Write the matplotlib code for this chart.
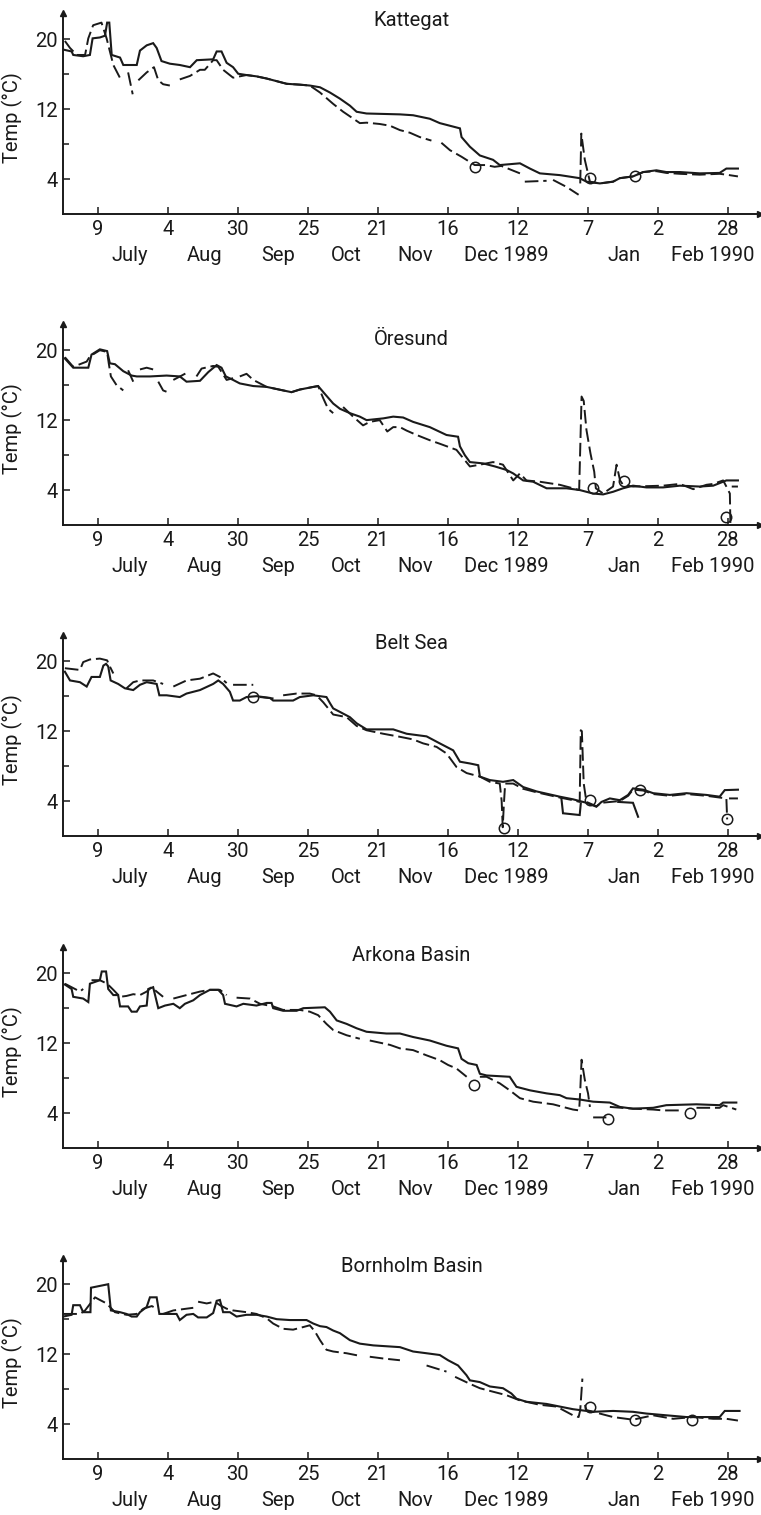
import numpy as np
import matplotlib
matplotlib.use("Agg")
import matplotlib.pyplot as plt
import matplotlib.transforms as mtransforms

plt.rcParams['font.family'] = ['Roboto', 'DejaVu Sans']

# ---------------- data (day = days since 1 July 1989, temperature in deg C) -------------
tick_days = [8, 34, 60, 86, 112, 138, 164, 190, 216, 242]
tick_labels = ['9', '4', '30', '25', '21', '16', '12', '7', '2', '28']
month_labels = ['July', 'Aug', 'Sep', 'Oct', 'Nov', 'Dec 1989', 'Jan', 'Feb 1990']
month_label_days = [19.9, 47.7, 74.9, 100.1, 125.8, 159.9, 203.4, 236.4]
y_major = [4, 12, 20]
y_minor = [8, 16]
stations = ['Kattegat', 'Öresund', 'Belt Sea', 'Arkona Basin', 'Bornholm Basin']

kattegat_solid = [(-4.7,18.8),(-1.8,18.6),(-1.2,18.2),(2.5,18.05),(5,18.2),(6,20.1),(8.7,20.2),(10.6,20.4),
    (11.4,21.9),(12.2,21.9),(13.1,18.2),(16.2,17.9),(17.4,17.05),(22.4,17.05),(23.6,18.7),(26.1,19.3),
    (28.5,19.55),(29.8,19.0),(31.6,17.5),(34.7,17.2),(38.4,17.05),(42.2,16.8),(44.7,17.6),(50.8,17.7),
    (52.1,18.6),(53.9,18.6),(55.8,17.3),(58.2,16.8),(60.1,16.05),(63.2,15.9),(66.9,15.75),(70.7,15.5),
    (74.4,15.2),(78.1,14.9),(83,14.8),(86.7,14.7),(90.5,14.5),(94.2,13.9),(97.9,13.2),(101.6,12.4),
    (104.1,11.7),(107.8,11.5),(120.2,11.4),(125.1,11.3),(131.3,10.9),(135,10.4),(142.5,9.8),(143.1,8.8),
    (146.2,7.7),(149.9,6.7),(154.8,6.2),(157.3,5.6),(164.8,5.8),(168.5,5.2),(172.2,4.65),(179.6,4.45),
    (187,4.1),(189.5,3.7),(194.5,3.5),(199.4,3.7),(201.9,4.1),(206.8,4.3),(210.6,4.8),(215.5,5.0),
    (219.2,4.8),(224.2,4.8),(231.6,4.65),(239,4.7),(241.5,5.2),(245.8,5.2)]
kattegat_dashed = [(-4.3,19.8),(-2.4,19.0),(0.1,18.2),(3.2,18.2),(4.4,20.1),(6.2,21.6),(9.3,21.9),(11.2,20.1),
    (13.7,17.05),(16.8,15.2),None,(19.2,16.2),(20.9,13.7),None,(23,15.3),(26.1,16.2),(28.8,16.8),(30.4,15.3),
    (32.2,14.85),(34.7,14.7),None,(38.4,15.4),(42.2,15.8),(45.9,16.5),(47.7,16.5),(50.8,17.6),(52.1,17.6),
    (54.5,16.5),(58.2,15.6),(63.2,15.9),(66.9,15.75),(70.7,15.5),(74.4,15.2),(78.1,14.9),(83,14.8),(86.7,14.7),
    (90.5,13.9),(95.4,12.6),(99.1,11.7),(105.3,10.4),(107.8,10.45),(112.7,10.3),(116.5,10.1),(120.2,9.6),
    (123.9,9.3),(127.6,8.8),(131.9,8.4),None,(135.6,8.15),(138.8,7.3),(143.1,6.55),(148,5.6),(152,5.6),
    (155.4,5.4),(157.9,5.5),(164.8,4.65),None,(166.6,3.7),(174.7,3.8),None,(177.1,3.9),(182.1,3.1),(186.6,2.2),
    None,(187.2,3.5),(187.6,9.2),(188.9,6.2),(190.8,3.7),(194.5,3.5),(199.4,3.7),(201.9,4.1),(206.8,4.3),
    (210.6,4.8),(215.5,4.9),(219.2,4.7),(224.2,4.6),(231.6,4.5),(239,4.6),(241.5,4.5),(245.8,4.3)]
kattegat_circles = [(148,5.4),(190.8,4.1),(207.5,4.3)]

oresund_solid = [(-4.3,19.05),(-1.2,18.0),(4.4,18.0),(5.6,19.5),(8.7,20.1),(11.4,19.9),(12.4,18.5),(14.3,18.4),
    (17.4,17.6),(20.5,17.1),(22.4,17.0),(27.3,17.0),(33.5,17.1),(38.4,17.0),(40.9,16.4),(45.9,16.5),(49,17.5),
    (52.1,18.3),(53.9,18.0),(55.5,17.0),(58.2,16.6),(60.7,16.2),(65.7,15.9),(70.7,15.8),(76.8,15.4),(79.9,15.2),
    (83,15.5),(88,15.8),(89.8,15.9),(92.3,15.0),(95.4,13.9),(97.9,13.3),(101.6,12.8),(105.3,12.4),(107.8,12.0),
    (114,12.2),(117.7,12.4),(121.4,12.3),(125.1,11.8),(131.3,11.2),(137.5,10.3),(141.8,10.1),(142.5,9.0),
    (144.3,8.0),(146.2,7.2),(151.1,7.05),(155.5,6.7),(159.8,6.3),(162.3,5.9),(166,5.1),(169.7,4.95),(174.7,4.2),
    (182.1,4.2),(187,4.0),(192,3.6),(195.7,3.5),(199.4,3.8),(203.1,4.2),(206.8,4.5),(211.8,4.3),(218,4.3),
    (224.2,4.5),(231.6,4.4),(236.6,4.5),(240.3,4.95),(241.5,5.1),(245.8,5.1)]
oresund_dashed = [(-4.3,19.2),(-1.2,18.1),(3.8,18.7),(5,19.3),(8.7,20.0),(11.4,19.8),(12.0,18.5),(12.8,17.0),
    (14.9,16.0),(17.4,15.4),None,(19.2,17.7),(21.1,16.4),None,(23.6,17.8),(26.1,18.0),(28.5,17.8),None,
    (30.4,16.4),(32.2,15.4),(34.7,15.1),None,(36,16.6),(39.1,17.1),(41.5,17.5),None,(44.6,17.0),(46.5,17.9),
    (50.8,18.2),(52.7,18.1),(55.8,16.6),(58.2,16.8),None,(60.7,17.0),(63.2,17.3),(65.7,16.6),(70.7,15.8),
    (76.8,15.4),(79.9,15.2),(83,15.5),(88,15.8),(89.8,15.9),(91.7,14.5),(93.5,13.3),(95.4,12.8),None,
    (99.1,13.5),(102.8,12.4),(106.5,11.4),(109,11.8),(112.7,12.0),(115.5,10.7),(117.7,11.2),(120.2,11.2),
    (122.7,10.8),(126.4,10.3),(131.3,9.7),(135,9.3),(141.2,8.6),(146.2,6.7),(149.9,6.9),(154.8,7.2),
    (158.5,6.9),(162.3,5.1),(164.8,5.9),(167.2,5.1),(172.2,4.95),(179.6,4.6),(184.5,4.2),(186.8,4.0),
    (187.7,14.7),(188.5,14.2),(189.5,10.9),(191,8.2),(192.4,6.1),(193,4.2),(195.7,3.6),(199.4,4.4),
    (200.7,6.9),(202,5.1),(203.1,4.6),(206.8,4.4),(218,4.5),(224.2,4.7),(229.2,4.1),(234.1,4.6),(236.6,4.7),
    (240.3,5.1),(241.5,4.4),(242.8,3.6),(243,0.2),None,(243.5,4.4),(245.8,4.4)]
oresund_circles = [(192,4.2),(203.4,5.0),(241.5,0.9)]

belt_solid = [(-4.3,18.8),(-2.4,17.8),(1.3,17.6),(3.8,17.1),(5.6,18.2),(8.7,18.2),(10,19.5),(11,19.7),
    (11.8,19.4),(12.7,17.8),(15.5,17.4),(18,16.9),(21.1,16.7),(23.6,17.3),(26.1,17.6),(29.8,17.4),(30.8,16.1),
    (33.5,16.1),(38.4,15.9),(40.9,16.3),(45.9,16.7),(50.8,17.4),(52.7,17.8),(54.5,17.4),(57,16.5),(58.2,15.5),
    (60.7,15.5),(63.2,15.9),(66.9,16.0),(71.9,15.8),(73.1,15.5),(80.5,15.5),(83,15.9),(88,16.1),(92.9,15.9),
    (94.2,15.2),(95.4,14.6),(97.9,14.2),(101.6,13.6),(104.1,12.9),(107.8,12.2),(117.7,12.2),(122.7,11.7),
    (130.1,11.4),(135,10.6),(140,9.8),(142.5,8.5),(146.2,8.3),(149.3,8.1),(149.9,6.8),(153.6,6.4),(158.5,6.2),
    (162.3,6.4),(166,5.6),(171,5.1),(179.6,4.5),(184.5,4.2),(189.5,3.8),(193.2,3.35),(195.1,3.9),(198.2,4.3),
    (201.9,4.1),(205,4.7),(206.8,5.45),(210.6,5.3),(214.3,4.9),(220.5,4.7),(226.7,4.9),(234.1,4.7),(239,4.5),
    (240.9,5.25),(245.8,5.3),None,(180.2,4.3),(180.8,2.6),(187,2.4),(187.4,3.7),None,(201.3,3.9),(206.8,3.8),
    (208.7,2.2)]
belt_dashed = [(-4.3,19.2),(1.3,19.0),(2.5,19.9),(5,20.2),(8.7,20.3),(11.4,20.1),(12.4,19.4),(13.7,18.6),None,
    (18.6,16.9),(21.1,17.6),(23.6,17.8),(28.5,17.8),(32.2,17.4),None,(36,17.1),(40.9,17.8),(45.9,18.0),
    (50.8,18.6),(53.3,18.2),(55.8,17.5),None,(58.2,17.3),(65.7,17.3),None,(68.2,15.9),(74.4,15.7),None,
    (76.8,16.1),(81.8,16.3),(86.7,16.3),(89.2,16.1),(91.7,15.3),(95.4,13.9),(100.4,13.6),(104.1,12.6),
    (107.8,12.1),(114,11.7),(120.2,11.35),(125.1,11.05),(128.8,10.6),(133.8,10.2),(137.5,9.45),(141.2,7.9),
    (145,7.2),(149.9,6.8),(153.6,6.2),(157.3,6.0),(158.0,4.0),(158.4,1.0),(158.8,3.5),(159.3,6.0),(162.3,6.0),
    (166,5.4),(171,5.0),(179.6,4.4),(184.5,4.1),(187,3.9),(187.4,12.1),(187.8,12.0),(188.5,6.0),(189.5,3.9),
    (193.2,3.4),(195.1,3.8),(201.9,4.0),(205,4.6),(206.8,5.3),(210.6,5.2),(214.3,4.8),(220.5,4.6),(226.7,4.8),
    (234.1,4.6),(239,4.4),(241.5,4.3),(241.8,1.9),None,(242.5,4.3),(245.8,4.3)]
belt_circles = [(65.7,15.85),(158.8,0.9),(190.8,4.1),(209.5,5.25),(241.8,1.9)]

arkona_solid = [(-4.3,18.7),(-1.8,18.2),(-1.2,17.3),(2.5,17.1),(4.4,16.7),(5,18.8),(8.7,19.2),(9.4,20.2),
    (11,20.2),(11.8,18.2),(13.7,17.5),(15.5,17.5),(16.2,16.2),(19.2,16.2),(20.5,15.6),(22.4,15.6),(23.6,16.2),
    (26.1,16.3),(26.7,18.2),(28.5,18.4),(30.4,16.0),(32.9,16.3),(36,16.5),(38.4,16.0),(40.3,16.5),(43.4,16.9),
    (45.9,17.5),(49.6,18.1),(52.7,18.1),(54.5,17.5),(55.2,16.5),(59.5,16.2),(62,16.5),(66.9,16.3),(70.7,16.6),
    (72.5,16.6),(73.1,16.0),(76.8,15.7),(81.8,15.7),(84.3,16.0),(92.3,16.1),(94.2,15.6),(96.7,14.6),
    (100.4,14.2),(104.1,13.7),(107.8,13.3),(115.2,13.1),(120.2,13.1),(125.1,12.7),(131.3,12.3),(137.5,11.7),
    (141.8,11.4),(143.1,10.2),(145.6,9.7),(148.7,9.5),(149.9,8.5),(152.4,8.3),(161,8.15),(163.5,7.0),
    (168.5,6.6),(174.7,6.25),(179.6,6.05),(182.1,5.7),(187,5.55),(192,5.3),(198.2,5.2),(201.9,4.7),
    (206.8,4.5),(214.3,4.6),(219.2,4.9),(230.4,5.0),(239,4.9),(240.3,5.2),(245.2,5.2)]
arkona_dashed = [(-4.3,18.8),(1.3,17.9),(2.5,18.2),None,(5.6,19.2),(8.7,19.2),(11.4,18.8),(13.7,18.1),
    (16.2,17.3),(18.6,17.4),(21.1,17.6),(23.6,17.5),(26.1,17.9),(27.9,18.4),(29.8,17.9),(32.2,17.3),None,
    (36,17.1),(40.9,17.5),(45.9,17.9),(49.6,18.1),(53.3,18.1),(55.8,17.5),None,(59.5,17.2),(64.5,17.1),
    (68.2,16.5),(73.1,16.2),(76.8,15.8),(83,15.8),(86.7,15.6),(89.8,15.2),(92.9,14.2),(95.4,13.5),
    (100.4,12.9),(105.3,12.5),None,(109,12.3),(116.5,11.8),(120.2,11.4),(125.1,11.2),(130.1,10.6),
    (135,10.05),(138.1,9.5),(141.2,9.1),(145,8.15),None,(149.9,8.15),(152.4,8.15),(157.3,7.4),(161,6.6),
    (164.8,5.7),(169.7,5.3),(177.1,5.0),(184.5,4.4),(186.8,4.3),(187.2,6.5),(187.7,10.1),(188.9,7.8),
    (190.1,6.25),(190.8,4.7),None,(192,3.5),(196.9,3.5),None,(198.2,4.7),(206.8,4.5),(214.3,4.4),(218,4.3),
    (224.2,4.3),None,(230.4,4.6),(239,4.6),(240.3,4.9),(245.2,4.4)]
arkona_circles = [(147.7,7.2),(197.5,3.3),(227.9,4.0)]

bornholm_solid = [(-4.9,16.3),(-1.8,16.5),(-1.2,17.6),(1.3,17.6),(2.5,16.8),(5.2,16.8),(5.4,19.6),(11.8,20.0),
    (12.8,17.0),(16.2,16.8),(18.6,16.6),(20.5,16.3),(22.4,16.3),(23.6,16.8),(26.1,17.4),(27.3,18.5),
    (29.8,18.5),(30.8,16.6),(32.9,16.6),(37.2,16.6),(38.4,15.9),(40.9,16.5),(43.4,16.6),(45.2,16.2),
    (48.4,16.2),(50.8,16.7),(52.1,18.1),(53.3,18.2),(54.5,16.8),(57,16.8),(59.5,16.3),(63.2,16.5),(66.9,16.5),
    (70.7,16.3),(74.4,16.0),(79.3,15.9),(85.5,15.9),(88,15.5),(90.5,15.2),(92.9,15.1),(95.4,14.7),(97.9,14.4),
    (101.6,13.6),(105.3,13.2),(110.3,13.0),(120.2,12.8),(125.1,12.3),(130.1,12.1),(135,11.9),(138.1,11.3),
    (141.8,10.7),(144.9,9.6),(146.2,9.0),(149.9,8.8),(153.6,8.3),(158.5,8.1),(161.6,7.5),(163.5,6.9),
    (167.2,6.55),(174.7,6.3),(179.6,6.0),(184.5,5.7),(187,5.6),(192,5.4),(199.4,5.5),(206.8,5.4),(211.8,5.2),
    (219.2,5.0),(226.7,4.8),(234.1,4.8),(239,4.8),(240.9,5.5),(246.4,5.5)]
bornholm_dashed = [(-4.9,16.6),(1.3,16.6),(3.2,17.0),(6.9,18.5),(8.7,18.2),(11.2,17.8),(14.3,16.8),(18.6,16.5),
    (22.4,16.6),(24.9,17.2),(28,17.5),(29.8,17.2),None,(32.2,16.6),(36,17.0),(40.9,17.2),(43.4,17.3),None,
    (45.2,18.0),(48.4,17.8),(51.4,18.0),(53.3,17.6),(55.8,17.2),(58.2,17.0),(63.2,16.8),(66.9,16.6),(70.7,16.1),
    (73.1,15.5),(76.8,14.9),(80.5,14.8),(84.3,15.1),(86.7,15.3),(88.6,14.6),(90.5,13.6),(92.9,12.5),(95.4,12.3),
    (100.4,12.1),(105.3,11.8),None,(109,11.7),(114,11.5),(120.2,11.3),None,(130.1,10.7),(137.5,10.0),None,
    (140.7,9.4),(146.2,8.6),(149.9,8.1),(154.8,7.7),(159.8,7.3),(164.8,6.7),(172.2,6.2),(178.4,6.0),
    (184.5,5.0),(186.6,4.8),(187.2,5.6),(188,9.2),None,(189,6.2),(189.5,5.6),(199.4,4.8),(206.8,4.5),
    (214.3,5.0),(221.7,4.6),(229.2,4.8),(236.6,4.6),(241.5,4.6),(245.8,4.4)]
bornholm_circles = [(190.8,6.0),(207.5,4.5),(228.8,4.45)]

solid_series = [kattegat_solid, oresund_solid, belt_solid, arkona_solid, bornholm_solid]
dashed_series = [kattegat_dashed, oresund_dashed, belt_dashed, arkona_dashed, bornholm_dashed]
circle_series = [kattegat_circles, oresund_circles, belt_circles, arkona_circles, bornholm_circles]

# ---------------- layout -------------
W, H = 761, 1515
panel_bottom_px = [214, 525, 836, 1148, 1459]
panel_height_px = 201
left_px, right_px = 63, 760
title_y = [0.965, 0.925, 0.96, 0.96, 0.96]
FS = 14.5
INK = '#1a1a1a'


def xy(points):
    xs = np.array([np.nan if p is None else p[0] for p in points], dtype=float)
    ys = np.array([np.nan if p is None else p[1] for p in points], dtype=float)
    return xs, ys


fig = plt.figure(figsize=(W / 100, H / 100), dpi=100)
for i, name in enumerate(stations):
    b = panel_bottom_px[i]
    ax = fig.add_axes([left_px / W, 1 - b / H, (right_px - left_px) / W, panel_height_px / H])
    ax.set_xlim(-5, 254)
    ax.set_ylim(0, 23)
    for s in ['top', 'right']:
        ax.spines[s].set_visible(False)
    for s in ['left', 'bottom']:
        ax.spines[s].set_linewidth(1.4)
        ax.spines[s].set_color(INK)

    xs, ys = xy(solid_series[i])
    ax.plot(xs, ys, color=INK, lw=1.5, solid_joinstyle='miter')
    xs, ys = xy(dashed_series[i])
    ax.plot(xs, ys, color=INK, lw=1.4, dashes=(7, 2.5))
    xs, ys = xy(circle_series[i])
    ax.plot(xs, ys, 'o', mfc='none', mec=INK, mew=1.1, ms=7.5, clip_on=False)

    ax.set_xticks(tick_days)
    ax.set_xticklabels(tick_labels)
    ax.set_yticks(y_major)
    ax.set_yticks(y_minor, minor=True)
    ax.set_yticklabels([str(v) for v in y_major])
    ax.tick_params(axis='both', which='both', direction='in', colors=INK, width=1.1, labelsize=FS)
    ax.tick_params(axis='x', length=5, pad=4)
    ax.tick_params(axis='y', which='major', length=5, pad=4)
    ax.tick_params(axis='y', which='minor', length=4)

    # axis arrows
    ax.plot([1], [0], marker='>', color=INK, ms=5, transform=ax.transAxes, clip_on=False)
    ax.plot([0], [1], marker='^', color=INK, ms=5, transform=ax.transAxes, clip_on=False)

    ax.set_ylabel('Temp (°C)', fontsize=FS, color=INK)
    ax.yaxis.set_label_coords(-0.057, 0.48)

    ax.text(0.5, title_y[i], name, transform=ax.transAxes, ha='center', va='center',
            fontsize=FS, color=INK)

    trans = mtransforms.blended_transform_factory(ax.transData, ax.transAxes)
    for lab, d in zip(month_labels, month_label_days):
        ax.text(d, -0.205, lab, transform=trans, ha='center', va='center', fontsize=FS, color=INK)

fig.savefig('out.png', dpi=100, facecolor='white')
